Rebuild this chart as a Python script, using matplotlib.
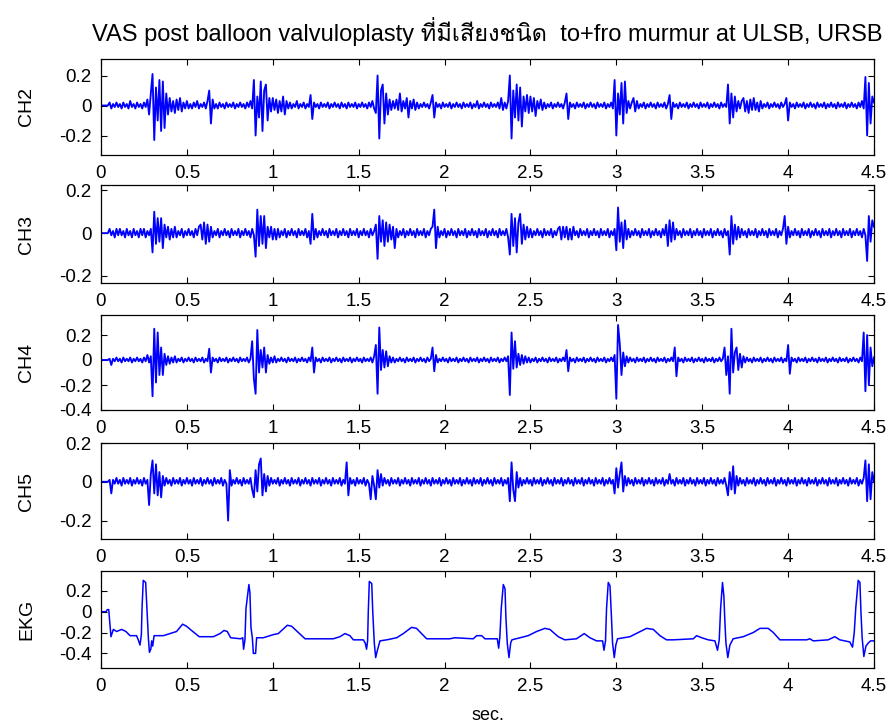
import numpy as np
import matplotlib
matplotlib.use("Agg")
import matplotlib.pyplot as plt
from matplotlib import font_manager, ft2font

# ---------------- data (values in units of 0.01) ----------------
dt = 0.01  # sample spacing of the channel traces, seconds (one row = 0.1 s)

ch2 = [
    0, 0, 0, 0, 0, 2, -2, 1, -1, 2,
    -1, 1, -2, 2, -1, 1, -2, 3, -1, 1,
    -2, 2, -1, 1, -2, 2, -1, 4, -6, 8,
    21, -23, 12, -10, 17, -17, 16, -15, 8, -6,
    5, -4, 3, -5, 4, -3, 5, -4, 2, -2,
    3, -2, 1, -2, 2, -1, 3, -2, 1, -1,
    2, -2, 3, 10, -12, 4, -2, 1, -2, 2,
    -1, 1, -2, 2, -1, 1, -1, 2, -2, 1,
    -1, 2, -1, 1, -2, 2, -1, 3, -2, 17,
    -20, 6, -8, 16, -17, 10, 14, -10, 5, -4,
    5, -3, 4, -5, 3, -4, 6, -6, 3, -2,
    2, -2, 1, -1, 3, -2, 1, -1, 2, -2,
    1, -1, 7, -9, 2, -1, 1, -2, 2, -1,
    1, -1, 2, -2, 1, -1, 2, -1, 1, -2,
    2, -1, 1, -2, 2, -1, 1, -1, 2, -2,
    1, -1, 2, -1, 1, -2, 2, -1, 3, -2,
    -5, 20, -22, 10, 14, -12, 8, -6, 4, -3,
    3, -2, 4, -3, 8, -4, 3, -2, 5, -8,
    3, -2, 4, -3, 2, -2, 1, -1, 2, -1,
    1, -2, 2, 7, -8, 2, -1, 1, -2, 2,
    -1, 1, -1, 2, -2, 1, -1, 2, -1, 1,
    -2, 2, -1, 1, -1, 2, -2, 1, -1, 3,
    -2, 1, -1, 2, -1, 1, -2, 2, -1, 1,
    -1, 2, -2, 5, -3, 2, -2, 3, 20, -22,
    10, -8, 14, -10, 12, -14, 6, -4, 7, -5,
    6, -4, 5, -7, 3, -2, 4, -3, 2, -2,
    1, -1, 2, -2, 1, -1, 2, -1, 1, -2,
    2, 8, -9, 2, -1, 1, -2, 2, -1, 1,
    -1, 2, -2, 1, -1, 2, -1, 1, -2, 2,
    -1, 1, -1, 2, -2, 1, -1, 2, -2, 17,
    -20, 8, -6, 15, -12, 16, -5, 3, -2, 2,
    5, -4, 3, -2, 1, -1, 2, -2, 1, -1,
    2, -1, 1, -2, 2, -1, 1, -1, 2, -2,
    1, 7, -9, 2, -1, 1, -2, 2, -1, 1,
    -1, 2, -2, 1, -1, 2, -1, 1, -2, 2,
    -1, 1, -1, 2, -2, 1, -1, 2, -1, 1,
    -2, 2, -1, 1, -1, 14, -12, 8, -8, 6,
    -4, 3, -2, 3, 5, -4, 3, -5, 4, -3,
    5, -3, 2, -4, 3, -2, 1, -1, 2, -2,
    1, -1, 2, -1, 1, -2, 2, -1, 1, 5,
    -10, 2, -1, 1, -2, 2, -1, 1, -1, 2,
    -2, 1, -1, 2, -1, 1, -2, 2, -1, 1,
    -1, 2, -2, 1, -1, 2, -1, 1, -2, 2,
    -1, 1, -1, 2, -2, 1, -1, 2, -1, 1,
    -2, 2, -1, 3, -2, 19, -20, 15, -12, 6,
    2,
]

ch3 = [
    0, 0, 0, 0, 0, 2, -1, 1, -2, 2,
    -1, 2, -1, 1, -2, 2, -1, 1, -2, 2,
    -1, 1, -2, 2, -1, 2, -2, 1, -1, 2,
    -9, 10, -5, 7, -4, 7, -7, 4, -2, 3,
    -3, 2, -2, 3, -2, 1, -1, 2, -2, 1,
    -1, 2, -1, 1, -2, 2, -1, 3, 4, -3,
    5, -5, 4, -4, 3, -2, 1, -1, 2, -2,
    1, -1, 2, -1, 1, -2, 2, -1, 1, -1,
    2, -2, 1, -1, 2, -1, 1, -2, 2, -1,
    -11, 11, -6, 8, -5, 8, -7, 3, -2, 3,
    -3, 2, -3, 2, -2, 1, -1, 2, -2, 1,
    -1, 2, -1, 1, -2, 2, -1, 1, -1, 2,
    -2, 1, -5, 9, -3, 2, -2, 1, -1, 2,
    -1, 1, -2, 2, -1, 1, -1, 2, -2, 1,
    -1, 2, -1, 1, -2, 2, -1, 1, -1, 2,
    -2, 1, -1, 2, -1, 1, -2, 2, -1, 1,
    4, -12, 8, -4, 6, -6, 5, -4, 4, -3,
    3, -7, 2, -2, 1, -1, 2, -2, 1, -1,
    2, -1, 1, -2, 2, -1, 1, -1, 2, -2,
    1, -1, 2, 3, 11, -7, 3, -2, 1, -1,
    2, -2, 1, -1, 2, -1, 1, -2, 2, -1,
    1, -1, 2, -2, 1, -1, 2, -1, 1, -2,
    2, -1, 1, -1, 2, -2, 1, -1, 2, -1,
    1, -2, 2, -1, 1, -1, 2, -2, -10, 9,
    -6, 7, -9, 5, 9, -5, 4, -3, 3, -2,
    2, -2, 1, -1, 2, -1, 1, -2, 2, -1,
    1, -1, 2, -2, 1, -1, 2, 3, -3, 3,
    -2, 3, -3, 2, -3, 3, -1, 1, -2, 2,
    -1, 1, -1, 2, -2, 1, -1, 2, -1, 1,
    -2, 2, -1, 1, -1, 2, -2, 1, -1, 2,
    -8, 12, -4, 5, -7, 6, -3, 2, -2, 1,
    -1, 2, -1, 1, -2, 2, -1, 1, -1, 2,
    -2, 1, -1, 2, -1, 1, -2, 2, -1, 4,
    -6, 6, -4, 5, -3, 2, -1, 1, -2, 2,
    -1, 1, -1, 2, -2, 1, -1, 2, -1, 1,
    -2, 2, -1, 1, -1, 2, -2, 1, -1, 2,
    -1, 1, -2, 2, -1, 1, -10, 8, -5, 4,
    -3, 3, -2, 2, -1, 1, -2, 2, -1, 1,
    -1, 2, -2, 1, -1, 2, -1, 1, -2, 2,
    -1, 1, -1, 2, -2, 1, -1, 2, 8, -5,
    3, -2, 1, -1, 2, -1, 1, -2, 2, -1,
    1, -1, 2, -2, 1, -1, 2, -1, 1, -2,
    2, -1, 1, -1, 2, -2, 1, -1, 2, -1,
    1, -2, 2, -1, 1, -1, 2, -2, 1, -1,
    2, -1, 1, -2, 2, -1, -13, 8, -4, 6,
    3,
]

ch4 = [
    0, 0, 0, 0, 0, 1, -4, 1, -1, 2,
    -1, 1, -2, 2, -1, 1, -1, 2, -2, 1,
    -1, 2, -1, 1, -2, 2, -1, 4, -2, 3,
    -29, 25, -18, 22, -12, 10, -12, 5, -4, 3,
    -3, 2, -2, 3, -2, 1, -1, 2, -2, 1,
    -1, 2, -1, 1, -2, 2, -1, 1, -1, 2,
    -2, 1, -1, 9, -10, 2, -1, 1, -2, 2,
    -1, 1, -1, 2, -2, 1, -1, 2, -1, 1,
    -2, 2, -1, 1, -1, 2, -2, 1, 15, -15,
    -27, 24, -10, 8, -6, 10, -10, 4, -3, 2,
    -2, 3, -2, 1, -1, 2, -1, 1, -2, 2,
    -1, 1, -1, 2, -2, 1, -1, 2, -1, 1,
    -2, 2, -1, 10, -10, 2, -1, 1, -2, 2,
    -1, 1, -1, 2, -2, 1, -1, 2, -1, 1,
    -2, 2, -1, 1, -1, 2, -2, 1, -1, 2,
    -1, 1, -2, 2, -1, 1, -1, 2, -2, 3,
    12, -27, 26, -8, 8, -6, 7, -5, 3, -2,
    2, -2, 1, -1, 2, -1, 1, -2, 2, -1,
    1, -1, 2, -2, 1, -1, 2, -1, 1, -2,
    2, -1, 1, 10, -9, 4, -2, 1, -1, 2,
    -1, 1, -2, 2, -1, 1, -1, 2, -2, 1,
    -1, 2, -1, 1, -2, 2, -1, 1, -1, 2,
    -2, 1, -1, 2, -1, 1, -2, 2, -1, 1,
    -1, 2, -2, 1, -1, 2, -1, 3, -28, 22,
    -7, 15, -6, 5, -4, 4, -3, 3, -2, 2,
    -2, 1, -1, 2, -2, 1, -1, 2, -1, 1,
    -2, 2, -1, 1, -1, 2, -2, 1, -1, 2,
    -1, 8, -9, 2, -1, 1, -2, 2, -1, 1,
    -1, 2, -2, 1, -1, 2, -1, 1, -2, 2,
    -1, 1, -1, 2, -2, 1, -1, 2, -1, 4,
    -31, 28, 13, -12, 6, -5, 3, -2, 2, -1,
    1, -2, 2, -1, 1, -1, 2, -2, 1, -1,
    2, -1, 1, -2, 2, -1, 1, -1, 2, -2,
    1, -1, 2, -1, 10, -13, 2, -1, 1, -2,
    2, -1, 1, -1, 2, -2, 1, -1, 2, -1,
    1, -2, 2, -1, 1, -1, 2, -2, 1, -1,
    2, -1, 1, 10, -12, 3, -27, 25, -10, 6,
    10, -8, 5, -6, 3, -2, 2, -1, 1, -2,
    2, -1, 1, -1, 2, -2, 1, -1, 2, -1,
    1, -2, 2, -1, 1, -1, 2, -2, 1, -1,
    12, -11, 2, -1, 1, -2, 2, -1, 1, -1,
    2, -2, 1, -1, 2, -1, 1, -2, 2, -1,
    1, -1, 2, -2, 1, -1, 2, -1, 1, -2,
    2, -1, 1, -1, 2, -2, 1, -1, 2, -1,
    1, -2, 2, -1, 22, -25, 20, -20, 10, -5,
    2,
]

ch5 = [
    0, 0, 0, 0, 0, 1, -6, 1, -1, 2,
    -1, 1, -2, 2, -1, 1, -1, 2, -2, 1,
    -1, 2, -1, 1, -2, 2, -1, 1, -12, 4,
    11, -6, 9, -7, 5, -8, 3, -2, 2, -1,
    1, -2, 2, -1, 1, -1, 2, -2, 1, -1,
    2, -1, 1, -2, 2, -1, 1, -1, 2, -2,
    1, -1, 2, -1, 1, -2, 2, -1, 1, -1,
    2, -2, 1, -1, -20, 6, -2, 1, -1, 2,
    -1, 1, -2, 2, -1, 1, -1, 2, -4, -8,
    6, -5, 9, 12, -7, 4, -5, 3, -2, 2,
    -1, 1, -1, 2, -2, 1, -1, 2, -1, 1,
    -2, 2, -1, 1, -1, 2, -2, 1, -1, 2,
    -1, 1, -2, 2, -1, 1, -1, 2, -2, 1,
    -1, 2, -1, 1, -2, 2, -1, 1, -1, 2,
    -2, 1, -1, 10, -7, 2, -1, 1, -2, 2,
    -1, 1, -1, 2, -2, 1, -1, -9, 3, -2,
    -9, 6, -3, 4, -2, 2, -1, 1, -2, 2,
    -1, 1, -1, 2, -2, 1, -1, 2, -1, 1,
    -2, 2, -1, 1, -1, 2, -2, 1, -1, 2,
    -1, 1, -2, 2, -1, 1, -1, 2, -2, 1,
    -1, 2, -1, 1, -2, 2, -1, 1, -1, 2,
    -2, 1, -1, 2, -1, 1, -2, 2, -1, 1,
    -1, 2, -2, 1, -1, 2, -1, 1, -2, 2,
    -1, 1, -1, 2, -2, 1, -1, 2, -10, 10,
    -4, -10, 5, -3, 2, -2, 1, -1, 2, -1,
    1, -2, 2, -1, 1, -1, 2, -2, 1, -1,
    2, -1, 1, -2, 2, -1, 1, -1, 2, -2,
    1, -1, 2, -1, 1, -2, 2, -1, 1, -1,
    2, -2, 1, -1, 2, -1, 1, -2, 2, -1,
    1, -1, 2, -2, 1, -1, 2, -1, 1, -6,
    7, -3, 4, 10, -5, 3, -2, 2, -1, 1,
    -2, 2, -1, 1, -1, 2, -2, 1, -1, 2,
    -1, 1, -2, 2, -1, 1, -1, 2, -2, 1,
    -1, 4, -1, 1, -2, 2, -1, 1, -1, 2,
    -2, 1, -1, 2, -1, 1, -2, 2, -1, 1,
    -1, 2, -2, 1, -1, 2, -1, 1, -2, 2,
    -1, 1, -1, 2, -2, -7, 5, -4, 8, -6,
    3, -2, 2, -1, 1, -2, 2, -1, 1, -1,
    2, -2, 1, -1, 2, -1, 1, -2, 2, -1,
    1, -1, 2, -2, 1, -1, 2, -1, 1, -2,
    2, -1, 1, -1, 2, -2, 1, -1, 2, -1,
    1, -2, 2, -1, 1, -1, 2, -2, 1, -1,
    2, -1, 1, -2, 2, -1, 1, -1, 2, -2,
    1, -1, 2, -1, 1, -2, 2, -1, 1, -1,
    2, -2, 1, -1, 2, 11, -10, 9, -9, 5,
    0,
]

# EKG: breakpoints (seconds) and values (0.01 units)
ekg_t = [
    0.000, 0.029, 0.037, 0.045, 0.058, 0.072, 0.091, 0.120, 0.145, 0.169,
    0.207, 0.217, 0.227, 0.235, 0.239, 0.246, 0.260, 0.266, 0.276, 0.282,
    0.290, 0.295, 0.301, 0.309, 0.363, 0.402, 0.440, 0.475, 0.498, 0.527,
    0.572, 0.654, 0.693, 0.716, 0.735, 0.755, 0.813, 0.825, 0.830, 0.838,
    0.844, 0.854, 0.861, 0.867, 0.873, 0.881, 0.887, 0.900, 0.906, 0.945,
    1.003, 1.032, 1.085, 1.110, 1.149, 1.188, 1.352, 1.391, 1.420, 1.449,
    1.469, 1.527, 1.538, 1.546, 1.552, 1.556, 1.562, 1.576, 1.582, 1.591,
    1.599, 1.609, 1.624, 1.663, 1.721, 1.760, 1.808, 1.837, 1.866, 1.896,
    2.030, 2.060, 2.167, 2.187, 2.216, 2.235, 2.307, 2.315, 2.322, 2.330,
    2.342, 2.352, 2.357, 2.365, 2.375, 2.385, 2.392, 2.439, 2.487, 2.536,
    2.584, 2.613, 2.662, 2.700, 2.768, 2.813, 2.846, 2.885, 2.920, 2.928,
    2.937, 2.943, 2.953, 2.963, 2.971, 2.978, 2.988, 2.997, 3.007, 3.079,
    3.127, 3.176, 3.215, 3.254, 3.292, 3.331, 3.448, 3.467, 3.497, 3.535,
    3.574, 3.589, 3.599, 3.607, 3.618, 3.626, 3.632, 3.638, 3.649, 3.661,
    3.680, 3.739, 3.797, 3.836, 3.884, 3.914, 3.952, 4.108, 4.127, 4.146,
    4.233, 4.272, 4.301, 4.359, 4.375, 4.385, 4.394, 4.408, 4.418, 4.424,
    4.431, 4.441, 4.453, 4.467, 4.480, 4.500,
]
ekg_v = [
    0, 0, 2, 2, -24, -17, -19, -17, -19, -23,
    -23, -27, -32, -22, 4, 30, 28, 7, -26, -39,
    -36, -28, -33, -23, -23, -21, -19, -12, -14, -18,
    -24, -24, -21, -18, -19, -25, -26, -25, -36, -27,
    3, 17, 26, 18, -15, -25, -40, -40, -25, -25,
    -22, -21, -13, -14, -20, -26, -26, -24, -21, -23,
    -27, -27, -30, -36, -28, 0, 29, 27, 0, -30,
    -44, -37, -28, -27, -25, -21, -15, -16, -21, -26,
    -26, -25, -26, -23, -23, -26, -26, -35, -24, 3,
    26, 22, -5, -30, -44, -30, -27, -25, -23, -19,
    -16, -17, -24, -27, -26, -21, -25, -28, -28, -37,
    -28, 3, 28, 25, -3, -30, -44, -32, -26, -24,
    -20, -16, -17, -23, -27, -27, -26, -23, -25, -27,
    -28, -37, -27, 3, 28, 15, -10, -30, -44, -32,
    -26, -24, -20, -16, -16, -20, -27, -27, -26, -28,
    -27, -24, -27, -29, -34, -20, 4, 30, 28, 0,
    -25, -43, -33, -30, -28, -28,
]

channel_names = ["CH2", "CH3", "CH4", "CH5", "EKG"]
xticks = [0, 0.5, 1, 1.5, 2, 2.5, 3, 3.5, 4, 4.5]
xticklabels = ["0", "0.5", "1", "1.5", "2", "2.5", "3", "3.5", "4", "4.5"]
yticks = {
    "CH2": [-0.2, 0, 0.2],
    "CH3": [-0.2, 0, 0.2],
    "CH4": [-0.4, -0.2, 0, 0.2],
    "CH5": [-0.2, 0, 0.2],
    "EKG": [-0.4, -0.2, 0, 0.2],
}
ylims = {
    "CH2": (-0.33, 0.31),
    "CH3": (-0.233, 0.225),
    "CH4": (-0.40, 0.36),
    "CH5": (-0.295, 0.20),
    "EKG": (-0.54, 0.39),
}
title_text = "VAS post balloon valvuloplasty ที่มีเสียงชนิด  to+fro murmur at ULSB, URSB"

# ---------------- fonts ----------------
def find_thai_font():
    for fe in font_manager.fontManager.ttflist:
        try:
            f = ft2font.FT2Font(fe.fname)
            if 0x0E17 in f.get_charmap():
                return fe.name
        except Exception:
            pass
    return None

thai = find_thai_font()
fam = ["Liberation Sans"] + ([thai] if thai else []) + ["DejaVu Sans"]
plt.rcParams["font.family"] = fam

# ---------------- figure ----------------
fig = plt.figure(figsize=(8.91, 7.28), dpi=100, facecolor="white")
W, H = 891.0, 728.0
left, right = 101, 874
boxes = [(59, 155), (185, 283), (315, 410), (443, 539), (571, 668)]

traces = {
    "CH2": np.array(ch2) / 100.0,
    "CH3": np.array(ch3) / 100.0,
    "CH4": np.array(ch4) / 100.0,
    "CH5": np.array(ch5) / 100.0,
}

blue = (0, 0, 1)
axes = []
for name, (top, bot) in zip(channel_names, boxes):
    ax = fig.add_axes([left / W, 1 - bot / H, (right - left) / W, (bot - top) / H])
    axes.append(ax)
    if name == "EKG":
        ax.plot(ekg_t, np.array(ekg_v) / 100.0, color=blue, lw=1.1)
    else:
        v = traces[name]
        t = np.arange(len(v)) * dt
        ax.plot(t, v, color=blue, lw=1.35)
    ax.set_xlim(0, 4.5)
    ax.set_ylim(*ylims[name])
    ax.set_xticks(xticks)
    ax.set_xticklabels(xticklabels)
    yt = yticks[name]
    ax.set_yticks(yt)
    ax.set_yticklabels(["0" if y == 0 else ("%g" % y) for y in yt])
    ax.tick_params(direction="in", length=4.5, width=0.8, top=True, right=True,
                   labelsize=13.5, colors="black")
    ax.tick_params(axis="x", pad=7)
    ax.tick_params(axis="y", pad=7)
    for s in ax.spines.values():
        s.set_linewidth(0.9)
        s.set_color("black")
    ax.set_ylabel(name, fontsize=14)
    ax.yaxis.set_label_coords(-0.085, 0.5)

axes[0].set_title(title_text, fontsize=17, pad=13)
axes[-1].set_xlabel("sec.", fontsize=13)
axes[-1].xaxis.set_label_coords(0.5, -0.40)

fig.savefig("out.png", dpi=100, facecolor="white")
